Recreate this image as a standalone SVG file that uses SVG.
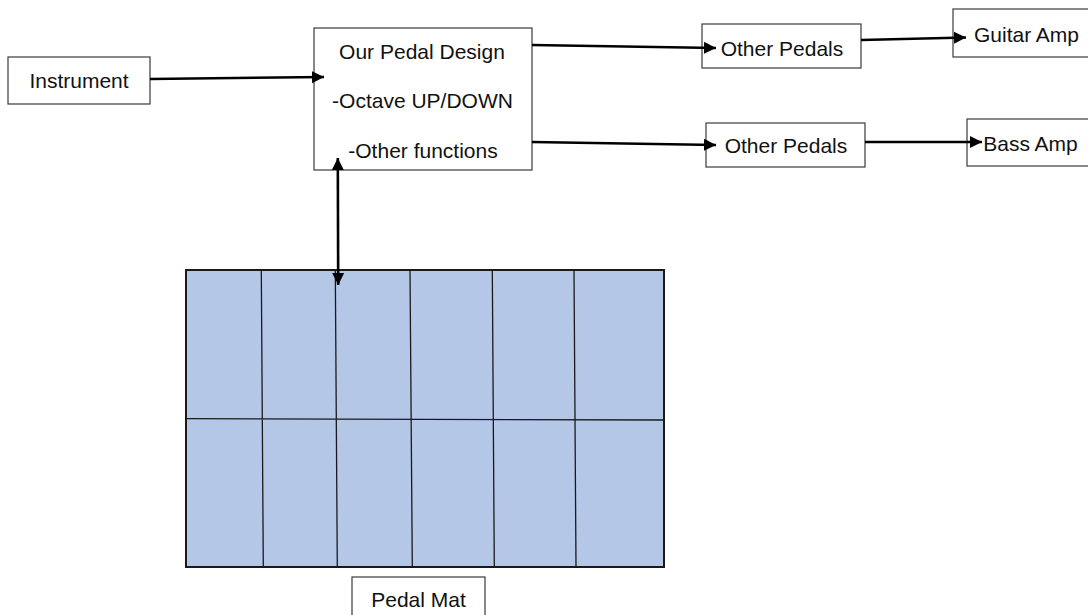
<svg xmlns="http://www.w3.org/2000/svg" width="1088" height="615" viewBox="0 0 1088 615">
<style>
.box{fill:#fff;stroke:#3a3a3a;stroke-width:1.2}
.t{font-family:"Liberation Sans",Arial,sans-serif;font-size:21px;fill:#111;text-anchor:middle}
.c{stroke:#000;stroke-width:2.6;fill:none}
.mat{fill:#b4c7e7;stroke:#1a1a1a;stroke-width:2}
.grid{stroke:#1a1a1a;stroke-width:1.3;fill:none}
</style>
<defs>
<marker id="ah" markerUnits="userSpaceOnUse" markerWidth="14" markerHeight="14" viewBox="0 0 14 14" refX="12" refY="7" orient="auto-start-reverse">
<path d="M0,1 L12,7 L0,13 Z" fill="#000"/>
</marker>
</defs>
<rect width="1088" height="615" fill="#fff"/>
<g id="instrument"><rect class="box" x="8" y="57" width="142" height="47"/><text class="t" x="79" y="88">Instrument</text></g>
<g id="pedal-design"><rect class="box" x="314" y="28" width="218" height="142"/>
<text class="t" x="422" y="59">Our Pedal Design</text>
<text class="t" x="422.5" y="108">-Octave UP/DOWN</text>
<text class="t" x="423" y="158">-Other functions</text></g>
<g id="other-pedals-1"><rect class="box" x="702" y="24" width="159" height="44"/><text class="t" x="782" y="56">Other Pedals</text></g>
<g id="other-pedals-2"><rect class="box" x="706" y="123" width="159" height="44"/><text class="t" x="786" y="153">Other Pedals</text></g>
<g id="guitar-amp"><rect class="box" x="953" y="9" width="140" height="48"/><text class="t" x="1026.5" y="42">Guitar Amp</text></g>
<g id="bass-amp"><rect class="box" x="967" y="119" width="130" height="47"/><text class="t" x="1030.5" y="151">Bass Amp</text></g>
<g id="pedal-mat">
<rect class="mat" x="186" y="270" width="478" height="297"/>
<path class="grid" d="M186,418.7 L664,420 M261.3,270 L263.3,567 M335.3,270 L337.3,567 M410,270 L412.3,567 M492.3,270 L494.3,567 M574,270 L576,567"/>
</g>
<g id="pedal-mat-label"><rect class="box" x="352" y="577" width="133" height="45"/><text class="t" x="418.5" y="607">Pedal Mat</text></g>
<g id="connectors">
<path class="c" d="M150,79 L324,77" marker-end="url(#ah)"/>
<path class="c" d="M532,45 L716,48" marker-end="url(#ah)"/>
<path class="c" d="M861,40 L966,37.5" marker-end="url(#ah)"/>
<path class="c" d="M532,142 L716,145" marker-end="url(#ah)"/>
<path class="c" d="M865,142 L982,142" marker-end="url(#ah)"/>
<path class="c" d="M337.8,158 L338.2,285" marker-start="url(#ah)" marker-end="url(#ah)"/>
</g>
</svg>
